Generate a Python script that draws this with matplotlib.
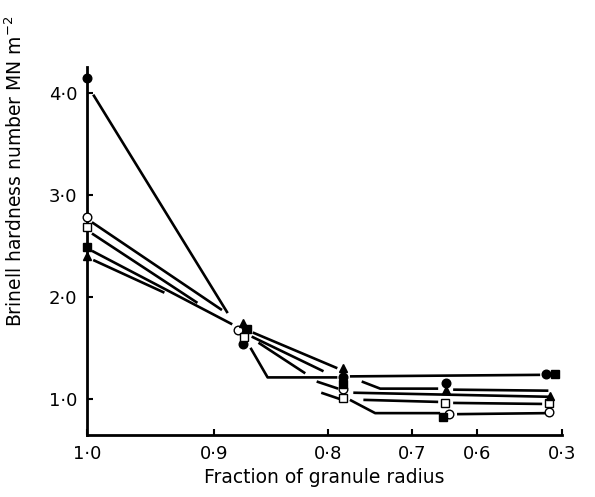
import numpy as np
import matplotlib
matplotlib.use("Agg")
import matplotlib.pyplot as plt

# tick positions of the (non-linear) radius axis
r_ticks = [1.0, 0.9, 0.8, 0.7, 0.6, 0.3]
r_tick_labels = ["1·0", "0·9", "0·8", "0·7", "0·6", "0·3"]
r_tick_pos = [0, 127, 241, 325, 390, 475]

y_ticks = [1.0, 2.0, 3.0, 4.0]
y_tick_labels = ["1·0", "2·0", "3·0", "4·0"]

# measured points
fc_x = [1.0, 0.875, 0.782, 0.648, 0.357]
fc_y = [4.14, 1.54, 1.21, 1.16, 1.24]
oc_x = [1.0, 0.879, 0.782, 0.643, 0.346]
oc_y = [2.78, 1.67, 1.10, 0.85, 0.87]
fs_x = [1.0, 0.871, 0.782, 0.652, 0.325]
fs_y = [2.49, 1.68, 1.15, 0.82, 1.24]
os_x = [1.0, 0.874, 0.782, 0.649, 0.346]
os_y = [2.68, 1.61, 1.01, 0.96, 0.96]
tr_x = [1.0, 0.875, 0.782, 0.648, 0.342]
tr_y = [2.40, 1.74, 1.30, 1.09, 1.03]

# hand drawn joining lines (broken near the points)
seg_x = [
    [0.995, 0.888], [0.996, 0.893], [0.996, 0.913], [0.996, 0.884], [0.995, 0.939],
    [0.866, 0.789], [0.867, 0.804], [0.861, 0.820], [0.868, 0.853, 0.789],
    [0.810, 0.788], [0.806, 0.783],
    [0.774, 0.378], [0.760, 0.738, 0.660], [0.637, 0.349], [0.770, 0.342],
    [0.758, 0.660], [0.637, 0.371], [0.774, 0.744, 0.657], [0.631, 0.353],
]
seg_y = [
    [3.98, 1.84], [2.73, 1.87], [2.62, 1.94], [2.45, 1.73], [2.36, 2.04],
    [1.65, 1.30], [1.61, 1.27], [1.55, 1.25], [1.50, 1.21, 1.21],
    [1.17, 1.10], [1.06, 0.99],
    [1.22, 1.235], [1.17, 1.10, 1.10], [1.09, 1.08], [1.06, 1.02],
    [0.99, 0.97], [0.96, 0.95], [0.99, 0.86, 0.86], [0.85, 0.86],
]


def fwd(r):
    # increasing in r, so xlim(1.0, 0.3) puts 1.0 on the left
    return -np.interp(r, r_ticks[::-1], r_tick_pos[::-1])


def inv(u):
    return np.interp(-np.asarray(u), r_tick_pos, r_ticks)


fig = plt.figure(figsize=(5.95, 4.97), dpi=100)
ax = fig.add_axes([0.146, 0.125, 0.799, 0.74])
ax.set_xscale("function", functions=(fwd, inv))

for xs, ys in zip(seg_x, seg_y):
    ax.plot(xs, ys, color="black", lw=1.9, solid_capstyle="butt", clip_on=False)

ms = 6.2
ax.plot(fc_x, fc_y, "o", ms=ms, mfc="black", mec="black", ls="none", clip_on=False, zorder=3)
ax.plot(oc_x, oc_y, "o", ms=ms, mfc="white", mec="black", mew=1.0, ls="none", clip_on=False, zorder=3)
ax.plot(fs_x, fs_y, "s", ms=ms - 1, mfc="black", mec="black", ls="none", clip_on=False, zorder=3)
ax.plot(os_x, os_y, "s", ms=ms - 1, mfc="white", mec="black", mew=1.0, ls="none", clip_on=False, zorder=3)
ax.plot(tr_x, tr_y, "^", ms=ms, mfc="black", mec="black", ls="none", clip_on=False, zorder=3)

ax.set_xlim(1.0, 0.3)
ax.set_ylim(0.647, 4.25)
ax.set_xticks(r_ticks)
ax.set_xticklabels(r_tick_labels)
ax.set_yticks(y_ticks)
ax.set_yticklabels(y_tick_labels)
ax.tick_params(direction="in", length=4, width=1.5, labelsize=13, pad=7)

for side in ["top", "right"]:
    ax.spines[side].set_visible(False)
for side in ["left", "bottom"]:
    ax.spines[side].set_linewidth(2.0)

ax.set_xlabel("Fraction of granule radius", fontsize=13.5, labelpad=4)
fig.text(0.026, 0.655, "Brinell hardness number MN m$^{-2}$", rotation=90,
         fontsize=13.5, ha="center", va="center")

fig.savefig("out.png", dpi=100)
